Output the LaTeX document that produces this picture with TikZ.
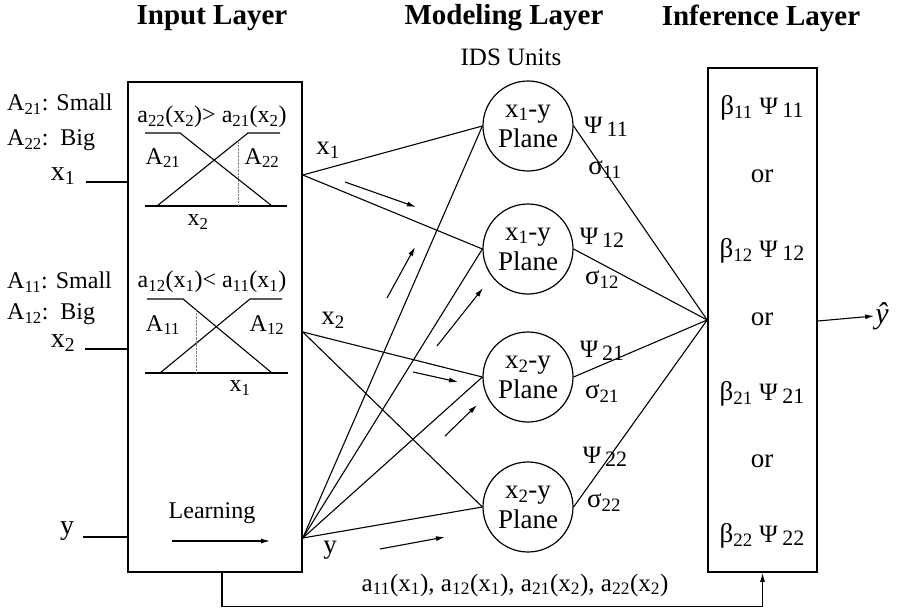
\documentclass[tikz,border=0pt]{standalone}
\usepackage{fontspec}
\setmainfont{Liberation Serif}
\usetikzlibrary{arrows.meta, positioning}

\newcommand{\fsz}[1]{\fontsize{#1}{#1}\selectfont}
\newcommand{\sbs}[1]{\textsubscript{#1}}
\newcommand{\psix}[1]{{\fsz{25}Ψ}\,\raisebox{-3pt}{\fsz{22}#1}}

\begin{document}
\begin{tikzpicture}[
    x=1pt, y=-1pt,
    hdr/.style={font=\fsz{29}\bfseries},
    lbl/.style={font=\fsz{24}, inner sep=1pt},
    lyr/.style={draw, line width=1.6pt, inner sep=0pt},
    ids/.style={draw, circle, line width=1.2pt, minimum size=90pt, inner sep=0pt,
      align=center, font=\fontsize{27}{30}\selectfont},
    link/.style={line width=1.1pt},
    mf/.style={line width=1.1pt},
    flow/.style={-{Latex[length=9pt, width=5pt]}, line width=1.1pt}
  ]
  \useasboundingbox (0,0) rectangle (898,610);

  % headers
  \node[hdr] (hin) at (212,18) {Input Layer};
  \node[hdr] (hmod) at (504,18) {Modeling Layer};
  \node[hdr] (hinf) at (761,18) {Inference Layer};
  \node[lbl, font=\fsz{25}] (units) at (511,57) {IDS Units};

  % layers
  \node[lyr, minimum width=174pt, minimum height=490pt] (inbox) at (215,327) {};
  \node[lyr, minimum width=109pt, minimum height=504pt] (infbox) at (762.5,320) {};

  \node[ids] (c1) at (528,126) {x\sbs{1}-y\\Plane};
  \node[ids] (c2) at (528,249) {x\sbs{1}-y\\Plane};
  \node[ids] (c3) at (528,377) {x\sbs{2}-y\\Plane};
  \node[ids] (c4) at (528,507) {x\sbs{2}-y\\Plane};

  % inputs
  \node[lbl, anchor=west] (a21) at (6,104) {A\sbs{21}: Small};
  \node[lbl, anchor=west] (a22) at (6,140) {A\sbs{22}:\ \ Big};
  \node[lbl, anchor=west] (a11) at (6,282) {A\sbs{11}: Small};
  \node[lbl, anchor=west] (a12) at (6,314) {A\sbs{12}:\ \ Big};
  \node[lbl, font=\fsz{28}] (inx1) at (63,176) {x\sbs{1}};
  \node[lbl, font=\fsz{28}] (inx2) at (63,343) {x\sbs{2}};
  \node[lbl, font=\fsz{28}] (iny) at (67,531) {y};
  \coordinate (ex1) at (86,182);
  \coordinate (ex2) at (85,349);
  \coordinate (ey) at (83,537);
  \draw[link] (ex1) -- (ex1 -| inbox.west);
  \draw[link] (ex2) -- (ex2 -| inbox.west);
  \draw[link] (ey) -- (ey -| inbox.west);

  % membership functions of x2
  \node[lbl] (t2) at (212,117) {a\sbs{22}(x\sbs{2})> a\sbs{21}(x\sbs{2})};
  \draw[mf] (145,206) -- (287,206);
  \draw[mf] (145,133) -- (180,133) -- (272,206);
  \draw[mf] (157,206) -- (248,133) -- (280,133);
  \draw[densely dotted, gray] (238,142) -- (238,206);
  \node[lbl] (m21) at (163,158) {A\sbs{21}};
  \node[lbl] (m22) at (262,158) {A\sbs{22}};
  \node[lbl] (ax2) at (198,222) {x\sbs{2}};

  % membership functions of x1
  \node[lbl] (t1) at (212,282) {a\sbs{12}(x\sbs{1})< a\sbs{11}(x\sbs{1})};
  \draw[mf] (145,373) -- (288,373);
  \draw[mf] (147,299) -- (183,299) -- (272,373);
  \draw[mf] (160,373) -- (250,299) -- (282,299);
  \draw[densely dotted, gray] (196,310) -- (196,373);
  \node[lbl] (m11) at (163,325) {A\sbs{11}};
  \node[lbl] (m12) at (267,325) {A\sbs{12}};
  \node[lbl] (ax1) at (240,388) {x\sbs{1}};

  \node[lbl, font=\fsz{24}] (learn) at (212,513) {Learning};
  \draw[flow] (172,541) -- (270,541);

  % to the IDS units
  \coordinate (px1) at (inbox.east |- 0,175);
  \coordinate (px2) at (inbox.east |- 0,332);
  \coordinate (py) at (inbox.east |- 0,538);
  \draw[link] (px1) -- (c1.west);
  \draw[link] (px1) -- (c2.west);
  \draw[link] (px2) -- (c3.west);
  \draw[link] (px2) -- (c4.west);
  \foreach \c in {c1,c2,c3,c4}
    \draw[link] (py) -- (\c.west);
  \node[lbl, font=\fsz{27}] (lx1) at (328,150) {x\sbs{1}};
  \node[lbl, font=\fsz{27}] (lx2) at (333,320) {x\sbs{2}};
  \node[lbl, font=\fsz{27}] (ly) at (330,550) {y};

  \foreach \sx/\sy/\tx/\ty in {345/182/416/207, 387/298/415/247, 437/346/483/288,
      413/372/458/382, 445/436/477/405, 380/549/445/537}
    \draw[flow] (\sx,\sy) -- (\tx,\ty);

  % to the inference layer
  \foreach \c in {c1,c2,c3,c4}
    \draw[link] (\c.east) -- (infbox.west);
  \node[lbl] (p11) at (606,127) {\psix{11}};
  \node[lbl, font=\fsz{27}] (s11) at (605,170) {σ\sbs{11}};
  \node[lbl] (p12) at (602,238) {\psix{12}};
  \node[lbl, font=\fsz{27}] (s12) at (602,280) {σ\sbs{12}};
  \node[lbl] (p21) at (602,351) {\psix{21}};
  \node[lbl, font=\fsz{27}] (s21) at (602,394) {σ\sbs{21}};
  \node[lbl] (p22) at (605,457) {\psix{22}};
  \node[lbl, font=\fsz{27}] (s22) at (604,503) {σ\sbs{22}};

  \foreach \t/\yy [count=\i] in {{β\sbs{11} \psix{11}}/108, or/176, {β\sbs{12} \psix{12}}/251,
      or/319, {β\sbs{21} \psix{21}}/394, or/461, {β\sbs{22} \psix{22}}/536}
    \node[lbl, font=\fsz{27}] (r\i) at (762,\yy) {\t};

  \node[lbl, font=\fsz{30}\itshape] (yhat) at (882,316) {ŷ};
  \draw[flow] (infbox.east |- 0,321) -- (yhat.west);

  % feedback of the memberships
  \draw[flow] ([xshift=7pt]inbox.south) -- ++(0,34) -| (infbox.south);
  \node[lbl, font=\fsz{25}] (fb) at (515,585) {a\sbs{11}(x\sbs{1}), a\sbs{12}(x\sbs{1}), a\sbs{21}(x\sbs{2}), a\sbs{22}(x\sbs{2})};
\end{tikzpicture}
\end{document}
